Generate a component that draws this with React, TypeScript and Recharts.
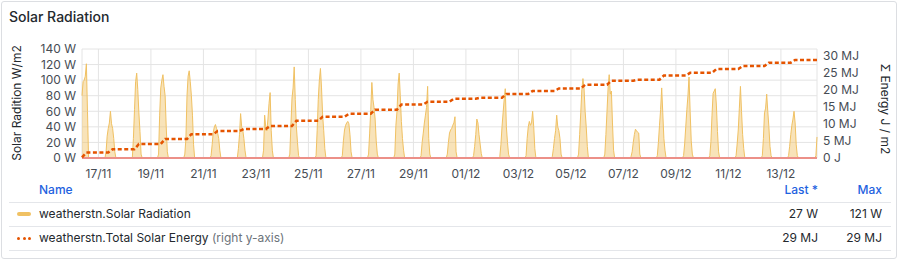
import {
  Area,
  CartesianGrid,
  ComposedChart,
  Line,
  ReferenceLine,
  XAxis,
  YAxis,
} from "recharts";

const HOUR = 3600 * 1000;
const DAY = 24 * HOUR;
const FIRST_DAY = Date.UTC(2023, 10, 16);
const START = Date.UTC(2023, 10, 16, 9);
const END = Date.UTC(2023, 11, 14, 9);

const days = [
  "16/11", "17/11", "18/11", "19/11", "20/11", "21/11", "22/11", "23/11", "24/11", "25/11",
  "26/11", "27/11", "28/11", "29/11", "30/11", "01/12", "02/12", "03/12", "04/12", "05/12",
  "06/12", "07/12", "08/12", "09/12", "10/12", "11/12", "12/12", "13/12", "14/12",
];

// solar radiation W/m2, hourly readings from 07:00 to 16:00 for each day (night = 0)
const radiation = [
  [0, 0, 80, 98, 100, 105, 121, 60, 0, 0],
  [8, 28, 38, 45, 60, 44, 38, 25, 8, 0],
  [0, 25, 62, 98, 109, 88, 58, 34, 5, 0],
  [5, 55, 90, 100, 107, 92, 80, 40, 8, 0],
  [5, 25, 80, 105, 112, 98, 80, 55, 17, 0],
  [3, 17, 33, 40, 43, 38, 32, 25, 10, 0],
  [0, 12, 30, 57, 40, 36, 25, 10, 0, 0],
  [10, 55, 40, 35, 50, 70, 84, 35, 10, 0],
  [5, 42, 77, 90, 117, 75, 40, 20, 3, 0],
  [3, 35, 75, 100, 115, 90, 55, 35, 12, 0],
  [3, 22, 36, 42, 45, 47, 44, 30, 8, 0],
  [5, 32, 62, 97, 75, 65, 50, 22, 5, 0],
  [5, 42, 60, 95, 109, 80, 47, 25, 10, 0],
  [3, 20, 32, 45, 55, 65, 92, 25, 5, 0],
  [5, 20, 32, 36, 38, 42, 45, 53, 8, 0],
  [3, 15, 30, 50, 45, 30, 18, 6, 0, 0],
  [2, 17, 40, 58, 75, 89, 40, 20, 5, 0],
  [3, 25, 40, 47, 42, 45, 60, 40, 12, 0],
  [2, 12, 25, 35, 55, 40, 35, 25, 5, 0],
  [5, 30, 58, 88, 102, 90, 60, 40, 15, 0],
  [5, 30, 60, 90, 107, 82, 86, 45, 10, 0],
  [2, 8, 20, 30, 37, 35, 33, 32, 5, 0],
  [3, 20, 42, 62, 90, 58, 25, 10, 0, 0],
  [3, 18, 40, 62, 80, 104, 60, 22, 5, 0],
  [3, 21, 55, 83, 86, 89, 68, 34, 8, 0],
  [3, 18, 36, 64, 92, 60, 30, 12, 0, 0],
  [3, 25, 58, 64, 82, 60, 40, 15, 3, 0],
  [3, 15, 30, 42, 50, 60, 45, 17, 3, 0],
  [0, 3, 27],
];

// total solar energy MJ/m2: value at start, then total at the end of each day
const energyStart = 0.2;
const energyEnd = [
  1.6, 2.6, 4.1, 5.6, 7.0, 7.9, 8.5, 9.4, 10.9, 12.1, 13.0, 14.2, 15.7, 16.5,
  17.4, 17.7, 18.8, 19.7, 20.4, 21.5, 22.7, 23.0, 24.2, 25.0, 26.1, 27.0, 28.0, 28.8,
];

const leftTicks = [0, 20, 40, 60, 80, 100, 120, 140];
const rightTicks = [0, 5, 10, 15, 20, 25, 30];
const xTicks = [
  "17/11", "19/11", "21/11", "23/11", "25/11", "27/11", "29/11",
  "01/12", "03/12", "05/12", "07/12", "09/12", "11/12", "13/12",
];

const data: { t: number; rad: number; energy: number | null }[] = [];
days.forEach((_, d) => {
  const dayStart = FIRST_DAY + d * DAY;
  for (let h = 0; h < 24; h++) {
    const t = dayStart + h * HOUR;
    if (t < START || t > END) continue;
    const i = h - 7;
    const rad = i >= 0 && i < radiation[d].length ? radiation[d][i] : 0;
    let energy: number | null = null;
    if (h === 9) energy = d === 0 ? energyStart : energyEnd[d - 1];
    if (h === 13 && d < energyEnd.length) energy = energyEnd[d];
    data.push({ t, rad, energy });
  }
});

const tickTimes = xTicks.map((s) => days.indexOf(s) * DAY + FIRST_DAY);
const fmtDate = (v: number) => {
  const dt = new Date(v);
  const dd = String(dt.getUTCDate()).padStart(2, "0");
  const mm = String(dt.getUTCMonth() + 1).padStart(2, "0");
  return `${dd}/${mm}`;
};

const radValues = data.map((p) => p.rad);
const energyValues = data.filter((p) => p.energy !== null).map((p) => p.energy as number);
const legendRows = [
  {
    name: "weatherstn.Solar Radiation",
    extra: "",
    last: `${Math.round(radValues[radValues.length - 1])} W`,
    max: `${Math.round(Math.max(...radValues))} W`,
  },
  {
    name: "weatherstn.Total Solar Energy",
    extra: " (right y-axis)",
    last: `${Math.round(energyValues[energyValues.length - 1])} MJ`,
    max: `${Math.round(Math.max(...energyValues))} MJ`,
  },
];

const RAD_COLOR = "#F0C163";
const ENERGY_COLOR = "#E55400";
const TEXT = "#24292e";
const TICK = { fontSize: 12, fill: "#464c54" };

export default function App() {
  return (
    <div
      style={{
        position: "absolute",
        left: 0,
        top: 0,
        width: 900,
        height: 260,
        background: "#fff",
        fontFamily: "Inter, 'Noto Sans', sans-serif",
        color: TEXT,
        overflow: "hidden",
      }}
    >
      <div
        style={{
          position: "absolute",
          left: 1,
          top: 1,
          width: 896,
          height: 258,
          boxSizing: "border-box",
          border: "1px solid #dcdee2",
          borderRadius: 3,
        }}
      />
      <div style={{ position: "absolute", left: 9, top: 9, fontSize: 14, lineHeight: "16px", fontWeight: 500 }}>
        Solar Radiation
      </div>
      <div
        style={{
          position: "absolute",
          left: 15.5,
          top: 103,
          fontSize: 12,
          whiteSpace: "nowrap",
          transform: "translate(-50%, -50%) rotate(-90deg)",
        }}
      >
        Solar Radition W/m2
      </div>
      <div
        style={{
          position: "absolute",
          left: 885,
          top: 109,
          fontSize: 12,
          whiteSpace: "nowrap",
          transform: "translate(-50%, -50%) rotate(90deg)",
        }}
      >
        Σ Energy J / m2
      </div>

      <div style={{ position: "absolute", left: 0, top: 0 }}>
        <ComposedChart width={900} height={180} data={data} margin={{ top: 49, right: 0, bottom: 0, left: 0 }}>
          <CartesianGrid yAxisId="left" stroke="#e4e4e4" />
          <XAxis
            dataKey="t"
            type="number"
            domain={[START, END]}
            ticks={tickTimes}
            interval={0}
            tickFormatter={fmtDate}
            height={22}
            axisLine={false}
            tickLine={false}
            tickSize={6}
            tickMargin={5}
            tick={TICK}
          />
          <YAxis
            yAxisId="left"
            domain={[0, 140]}
            ticks={leftTicks}
            interval={0}
            width={82}
            axisLine={false}
            tickLine={false}
            tickSize={4}
            tickMargin={2}
            tick={TICK}
            tickFormatter={(v) => `${v} W`}
          />
          <YAxis
            yAxisId="right"
            orientation="right"
            domain={[0, 32]}
            ticks={rightTicks}
            interval={0}
            width={83}
            axisLine={false}
            tickLine={false}
            tickSize={4}
            tickMargin={2}
            tick={TICK}
            tickFormatter={(v) => (v === 0 ? "0 J" : `${v} MJ`)}
          />
          <Area
            yAxisId="left"
            type="linear"
            dataKey="rad"
            stroke={RAD_COLOR}
            strokeWidth={1}
            fill={RAD_COLOR}
            fillOpacity={0.45}
            isAnimationActive={false}
            dot={false}
            activeDot={false}
          />
          <ReferenceLine yAxisId="left" y={0} stroke="#EC9088" strokeWidth={2} />
          <Line
            yAxisId="right"
            type="linear"
            dataKey="energy"
            stroke={ENERGY_COLOR}
            strokeWidth={2.5}
            strokeDasharray="4 2.5"
            connectNulls
            dot={false}
            activeDot={false}
            isAnimationActive={false}
          />
        </ComposedChart>
      </div>

      {[202, 226, 250].map((y) => (
        <div key={y} style={{ position: "absolute", left: 9, top: y, width: 882, height: 1, background: "#e4e6ea" }} />
      ))}
      <div style={{ position: "absolute", left: 39, top: 183, fontSize: 12, lineHeight: "14px", color: "#1F62E0", fontWeight: 500 }}>
        Name
      </div>
      <div style={{ position: "absolute", left: 738, width: 80, top: 183, fontSize: 12, lineHeight: "14px", color: "#1F62E0", fontWeight: 500, textAlign: "right" }}>
        Last *
      </div>
      <div style={{ position: "absolute", left: 802, width: 80, top: 183, fontSize: 12, lineHeight: "14px", color: "#1F62E0", fontWeight: 500, textAlign: "right" }}>
        Max
      </div>
      {legendRows.map((r, i) => {
        const top = 206.5 + i * 24.5;
        return (
          <div key={r.name}>
            {i === 0 ? (
              <div style={{ position: "absolute", left: 17, top: top + 5, width: 14, height: 4, borderRadius: 2, background: RAD_COLOR }} />
            ) : (
              <div style={{ position: "absolute", left: 17, top: top + 5.5, width: 14, height: 3, display: "flex", justifyContent: "space-between" }}>
                {[0, 1, 2].map((k) => (
                  <div key={k} style={{ width: 3, height: 3, borderRadius: 1.5, background: ENERGY_COLOR }} />
                ))}
              </div>
            )}
            <div style={{ position: "absolute", left: 39, top, fontSize: 12, lineHeight: "14px", whiteSpace: "nowrap" }}>
              {r.name}
              {r.extra && <span style={{ color: "#6c737a" }}>{r.extra}</span>}
            </div>
            <div style={{ position: "absolute", left: 738, width: 80, top, fontSize: 12, lineHeight: "14px", textAlign: "right" }}>
              {r.last}
            </div>
            <div style={{ position: "absolute", left: 802, width: 80, top, fontSize: 12, lineHeight: "14px", textAlign: "right" }}>
              {r.max}
            </div>
          </div>
        );
      })}
    </div>
  );
}
